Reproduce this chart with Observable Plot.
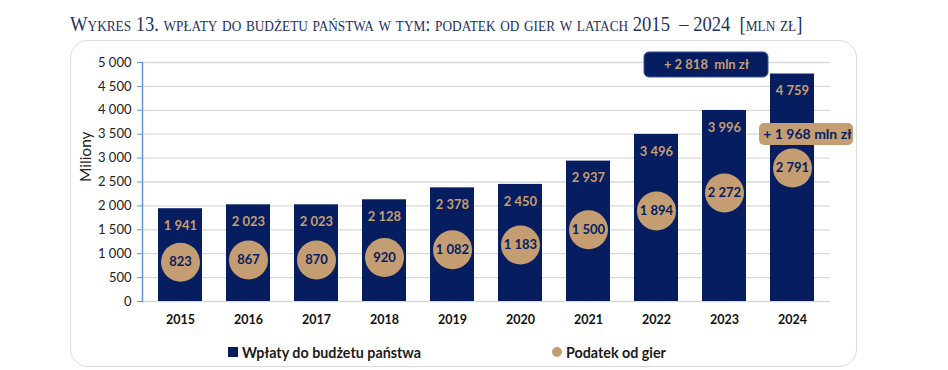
<!DOCTYPE html>
<html><head><meta charset="utf-8">
<script src="https://cdn.jsdelivr.net/npm/d3@7"></script>
<script src="https://cdn.jsdelivr.net/npm/@observablehq/plot@0.6"></script>
<style>
body{margin:0;background:#fff;width:948px;height:370px;overflow:hidden;position:relative;font-family:Lato,sans-serif}
#title{position:absolute;left:70px;top:12px;font-family:"Liberation Serif",serif;font-variant:small-caps;font-size:21px;color:#24305e;white-space:pre;transform-origin:0 0;transform:scaleX(0.885)}
#box{position:absolute;left:70px;top:40px;width:787px;height:327px;border:1.5px solid #dcdcdc;border-radius:18px;box-sizing:border-box}
#chart{position:absolute;left:0;top:0}
#legend{position:absolute;top:343px;left:0;width:948px;height:20px;font-size:14.3px;font-weight:bold;color:#1a1a1a}
.li{position:absolute;top:0;display:flex;align-items:center;height:18px}
.sw{display:inline-block;width:10px;height:10px;margin-right:4px}
</style></head>
<body>
<div id="title">Wykres 13. wpłaty do budżetu państwa w tym: podatek od gier w latach 2015  – 2024  [mln zł]</div>
<div id="box"></div>
<div id="chart"></div>
<div id="legend"></div>
<script>
const years = ["2015","2016","2017","2018","2019","2020","2021","2022","2023","2024"];
const wplaty = [1941, 2023, 2023, 2128, 2378, 2450, 2937, 3496, 3996, 4759];
const podatek = [823, 867, 870, 920, 1082, 1183, 1500, 1894, 2272, 2791];
const yTicks = [0, 500, 1000, 1500, 2000, 2500, 3000, 3500, 4000, 4500, 5000];
const seriesNames = ["Wpłaty do budżetu państwa", "Podatek od gier"];
const annoLabels = ["+ 2 818  mln zł", "+ 1 968 mln zł"];
const annoYears = ["2024", "2024"];
const annoValues = [4948, 3494];

const NAVY = "#061d60", TAN = "#c59d72";
const fmt = v => d3.format(",")(v).replace(/,/g, " ");
const data = years.map((y, i) => ({year: y, w: wplaty[i], p: podatek[i]}));
const halfBox = 262, halfBox2 = 230;
const annos = annoLabels.map((l, i) => ({label: l, year: annoYears[i], v: annoValues[i]}));

const chart = Plot.plot({
  width: 948, height: 340,
  marginLeft: 142, marginRight: 118, marginTop: 62, marginBottom: 39,
  style: {fontFamily: "Lato, sans-serif", background: "transparent", overflow: "visible"},
  x: {domain: years, paddingInner: 0.36, paddingOuter: 0.18, label: null},
  y: {domain: [0, 5000], label: null},
  marks: [
    Plot.gridY(yTicks, {stroke: "#d9d9d9", strokeOpacity: 1, strokeWidth: 1.3}),
    Plot.axisY(yTicks, {tickFormat: fmt, tickSize: 5, tickPadding: 6, stroke: "#5b9bd5", fontSize: 13, color: "#222", label: null}),
    Plot.frame({anchor: "left", stroke: "#5b9bd5", strokeWidth: 1.5}),
    Plot.axisX({tickSize: 0, tickPadding: 14, fontSize: 12.5, fontWeight: "bold", color: "#111", label: null}),
    Plot.text(["Miliony"], {frameAnchor: "left", rotate: -90, dx: -56, fontSize: 15.5, fill: "#222"}),
    Plot.barY(data, {x: "year", y: "w", fill: NAVY}),
    Plot.text(data, {x: "year", y: "w", text: d => fmt(d.w), dy: 17, fill: TAN, fontSize: 13, fontWeight: "bold"}),
    Plot.dot(data, {x: "year", y: "p", r: 19.5, fill: TAN}),
    Plot.text(data, {x: "year", y: "p", text: d => fmt(d.p), fill: NAVY, fontSize: 13, fontWeight: "bold"}),
    Plot.barY([annos[0]], {x: "year", y1: d => d.v - halfBox, y2: d => d.v + halfBox, fill: NAVY, stroke: "#3a5a9a", strokeWidth: 1, insetLeft: -126, insetRight: 46, rx: 5}),
    Plot.text([annos[0]], {x: "year", y: "v", text: "label", dx: -86, fill: TAN, fontSize: 13, fontWeight: "bold"}),
    Plot.barY([annos[1]], {x: "year", y1: d => d.v - halfBox2, y2: d => d.v + halfBox2, fill: TAN, insetLeft: -11, insetRight: -39, rx: 5}),
    Plot.text([annos[1]], {x: "year", y: "v", text: "label", dx: 15, fill: NAVY, fontSize: 14, fontWeight: "bold"})
  ]
});
document.getElementById("chart").append(chart);

const lg = document.getElementById("legend");
lg.innerHTML = `<div class="li" style="left:228px"><span class="sw" style="background:${NAVY}"></span>${seriesNames[0]}</div>
<div class="li" style="left:552px"><span class="sw" style="background:${TAN};border-radius:50%"></span>${seriesNames[1]}</div>`;
</script>
</body></html>
